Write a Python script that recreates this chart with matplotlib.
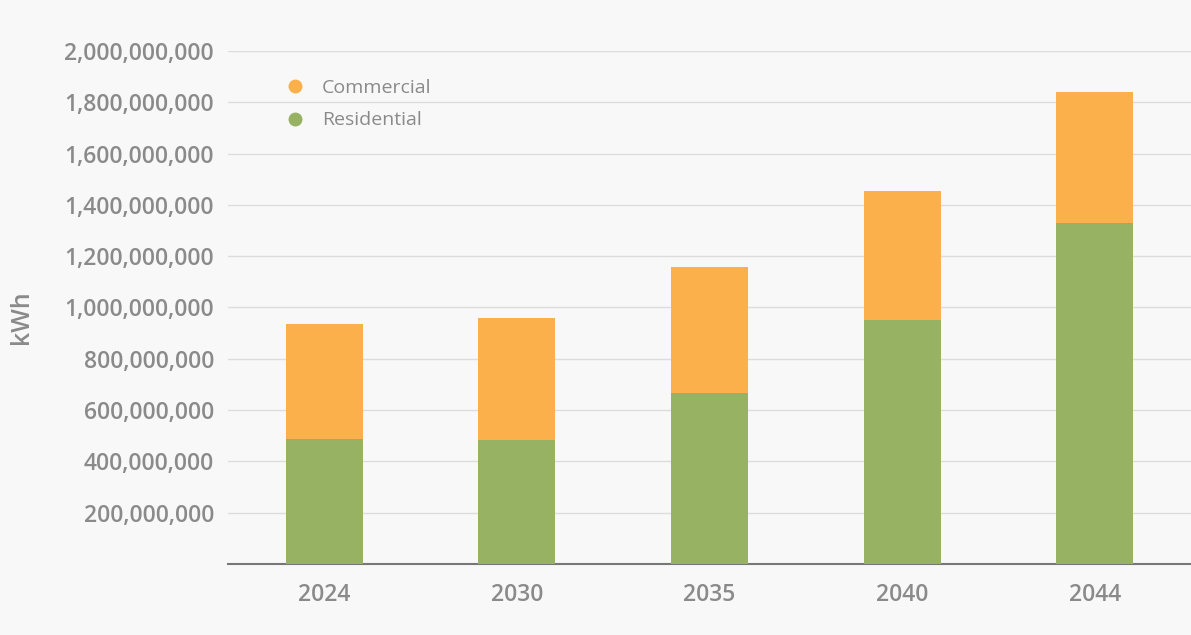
import matplotlib.pyplot as plt
from matplotlib.ticker import FuncFormatter
from matplotlib.lines import Line2D

years = ['2024', '2030', '2035', '2040', '2044']
residential = [487e6, 483e6, 667e6, 951e6, 1329e6]
commercial = [449e6, 476e6, 491e6, 503e6, 511e6]

green = '#97b262'
orange = '#fbb04b'
grey = '#8a8a8a'
bg = '#f8f8f8'

plt.rcParams['font.family'] = ['Open Sans', 'DejaVu Sans']

fig = plt.figure(figsize=(11.91, 6.35), dpi=100, facecolor=bg)
ax = fig.add_axes([0.1914, 0.1118, 0.8086, 0.8079], facecolor=bg)

x = range(len(years))
ax.bar(x, residential, width=0.4, color=green, zorder=3)
ax.bar(x, commercial, width=0.4, bottom=residential, color=orange, zorder=3)

ax.set_xlim(-0.5, 4.5)
ax.set_ylim(0, 2e9)
ax.set_yticks([i * 2e8 for i in range(1, 11)])
ax.yaxis.set_major_formatter(FuncFormatter(lambda v, p: f'{int(v):,}'))
ax.set_xticks(list(x))
ax.set_xticklabels(years)
ax.grid(axis='y', color='#dddddd', linewidth=1, zorder=0)

for s in ['top', 'right', 'left']:
    ax.spines[s].set_visible(False)
ax.spines['bottom'].set_color('#777777')
ax.spines['bottom'].set_linewidth(1.5)
ax.tick_params(axis='both', length=0, colors=grey)
ax.tick_params(axis='x', labelsize=16.5, pad=14)
ax.tick_params(axis='y', labelsize=16.5, pad=10)
for lab in ax.get_xticklabels() + ax.get_yticklabels():
    lab.set_fontweight('semibold')

fig.text(0.018, 0.50, 'kWh', rotation=90, color=grey, fontsize=18,
         fontweight='semibold', va='center', ha='center')

handles = [Line2D([], [], marker='o', linestyle='', color=orange, markersize=9),
           Line2D([], [], marker='o', linestyle='', color=green, markersize=9)]
leg = ax.legend(handles, ['Commercial', 'Residential'], loc='upper left',
                bbox_to_anchor=(0.031, 0.98), frameon=False, fontsize=14,
                handletextpad=0.4, labelspacing=0.75, labelcolor=grey)

plt.savefig('out.png', dpi=100, facecolor=bg)
